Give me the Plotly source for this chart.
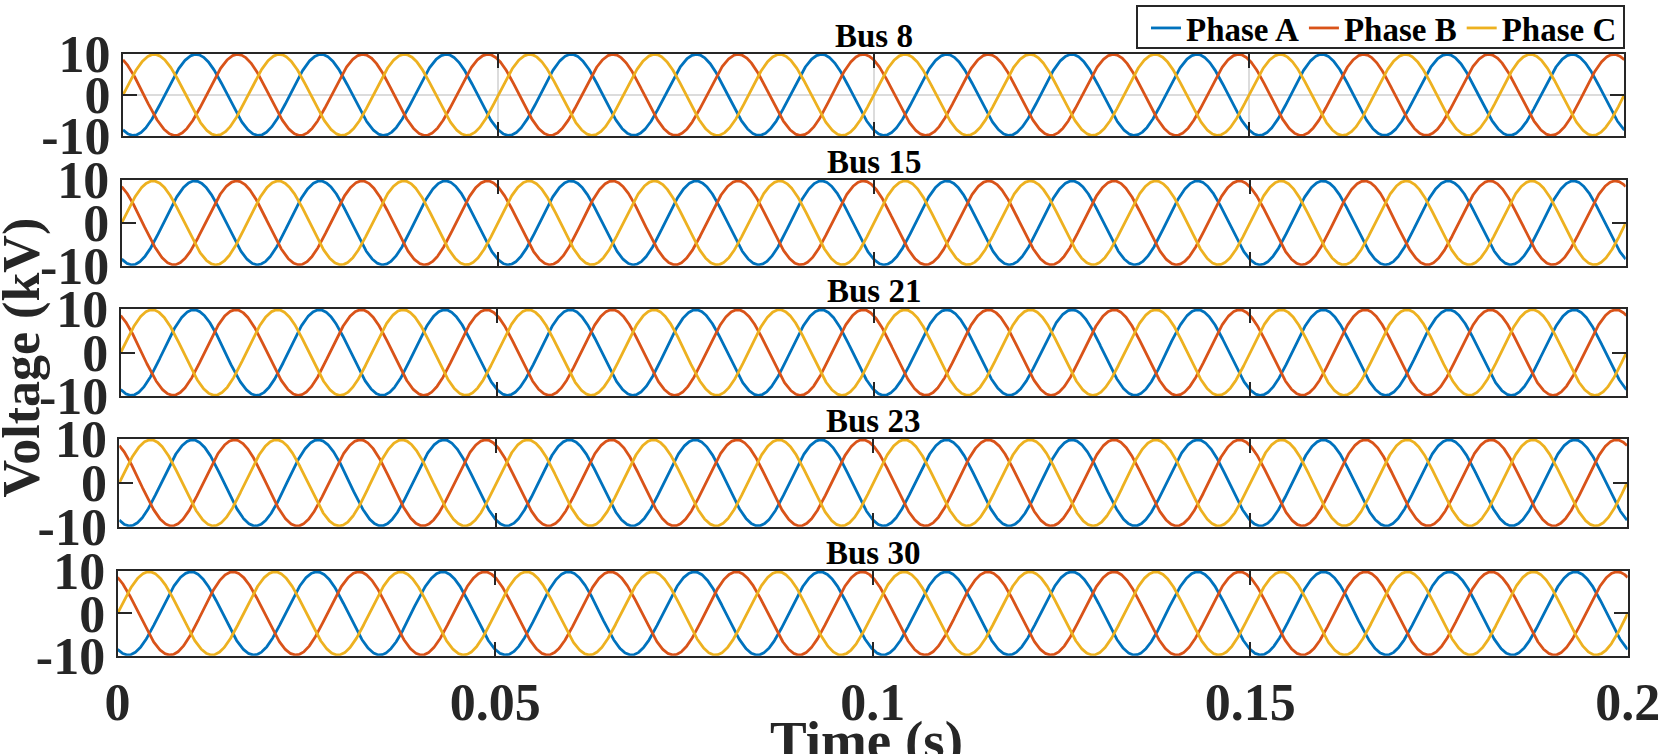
import numpy as np
import plotly.graph_objects as go

# ---- data ----
bus_names = ["Bus 8", "Bus 15", "Bus 21", "Bus 23", "Bus 30"]
phase_names = ["Phase A", "Phase B", "Phase C"]
phase_colors = ["#0072BD", "#D95319", "#EDB120"]
phase_angle_deg = [-120.0, 120.0, 0.0]        # phase angle of each phase at t = 0
amplitude_kv = [9.8, 9.8, 9.8, 9.8, 9.8]      # peak voltage per bus
frequency_hz = 60.0
t_start, t_end = 0.0, 0.2
x_tick_vals = [0, 0.05, 0.1, 0.15, 0.2]
x_tick_text = ["0", "0.05", "0.1", "0.15", "0.2"]
y_tick_vals = [-10, 0, 10]
y_tick_text = ["-10", "0", "10"]

# ---- layout geometry (pixels in a 1661 x 754 page) ----
W, H = 1661, 754
panels_px = [  # top, bottom, left, right
    (52.6, 135.4, 123.0, 1624.3),
    (179.3, 265.0, 121.7, 1625.7),
    (308.3, 395.7, 120.7, 1626.4),
    (438.5, 526.5, 119.3, 1627.0),
    (570.7, 655.7, 117.6, 1627.7),
]
legend_box_px = (1137, 5, 1624, 47)  # left, top, right, bottom

t = np.linspace(t_start, t_end, 4001)

fig = go.Figure()
axcol = "#262626"
FONT = "Liberation Serif"

for i, (bus, amp) in enumerate(zip(bus_names, amplitude_kv)):
    n = i + 1
    xa = "x" if n == 1 else f"x{n}"
    ya = "y" if n == 1 else f"y{n}"
    for name, col, ang in zip(phase_names, phase_colors, phase_angle_deg):
        v = amp * np.sin(2 * np.pi * frequency_hz * t + np.deg2rad(ang))
        fig.add_trace(go.Scatter(
            x=t, y=v, mode="lines", name=name,
            line=dict(color=col, width=2.8),
            xaxis=xa, yaxis=ya, showlegend=(i == 0),
        ))
    top, bot, left, right = panels_px[i]
    xdom = [left / W, right / W]
    ydom = [1 - bot / H, 1 - top / H]
    show_grid = (i == 0)
    xkey = "xaxis" if n == 1 else f"xaxis{n}"
    ykey = "yaxis" if n == 1 else f"yaxis{n}"
    fig.layout[xkey] = dict(
        domain=xdom, anchor=ya, range=[t_start, t_end],
        tickvals=x_tick_vals, ticktext=x_tick_text,
        showticklabels=(n == len(bus_names)),
        ticks="inside", ticklen=14, tickwidth=2, tickcolor=axcol,
        showline=True, linecolor=axcol, linewidth=2, mirror="ticks",
        showgrid=show_grid, gridcolor="#dcdcdc", gridwidth=1.5,
        zeroline=False, automargin=False,
        tickfont=dict(family=FONT, size=52, color=axcol, weight="bold"),
        ticklabelstandoff=0,
    )
    fig.layout[ykey] = dict(
        domain=ydom, anchor=xa, range=[-10, 10],
        tickvals=y_tick_vals, ticktext=y_tick_text,
        ticks="inside", ticklen=14, tickwidth=2, tickcolor=axcol,
        showline=True, linecolor=axcol, linewidth=2, mirror="ticks",
        showgrid=show_grid, gridcolor="#dcdcdc", gridwidth=1.5,
        zeroline=False, automargin=False,
        tickfont=dict(family=FONT, size=52, color=axcol, weight="bold"),
        ticklabelstandoff=0,
    )
    fig.add_annotation(
        text=bus, xref="paper", yref="paper",
        x=(left + right) / 2 / W, y=1 - (top + 2) / H,
        xanchor="center", yanchor="bottom", showarrow=False,
        font=dict(family=FONT, size=33, color="black", weight="bold"),
    )

fig.add_annotation(
    text="Voltage (kV)", xref="paper", yref="paper",
    x=22 / W, y=1 - 357 / H, textangle=-90,
    xanchor="center", yanchor="middle", showarrow=False,
    font=dict(family=FONT, size=52, color=axcol, weight="bold"),
)
fig.add_annotation(
    text="Time (s)", xref="paper", yref="paper",
    x=866 / W, y=1 - 740 / H,
    xanchor="center", yanchor="middle", showarrow=False,
    font=dict(family=FONT, size=55, color=axcol, weight="bold"),
)

# legend frame
lb_l, lb_t, lb_r, lb_b = legend_box_px
fig.add_shape(
    type="rect", xref="paper", yref="paper",
    x0=lb_l / W, x1=lb_r / W, y0=1 - lb_b / H, y1=1 - lb_t / H,
    line=dict(color=axcol, width=2), fillcolor="white", layer="above",
)

fig.update_layout(
    width=W, height=H,
    margin=dict(l=0, r=0, t=0, b=0),
    paper_bgcolor="white", plot_bgcolor="white",
    showlegend=True,
    legend=dict(
        orientation="h", x=(lb_r - 2) / W, y=1 - ((lb_t + lb_b) / 2 + 1) / H,
        xanchor="right", yanchor="middle",
        borderwidth=0, bgcolor="rgba(0,0,0,0)",
        font=dict(family=FONT, size=33, color="black", weight="bold"),
        itemwidth=30, tracegroupgap=0,
    ),
)

fig.write_html(
    "out.html",
    config={"displayModeBar": False},
    post_script="document.body.style.margin='0';document.body.style.overflow='hidden';",
)
